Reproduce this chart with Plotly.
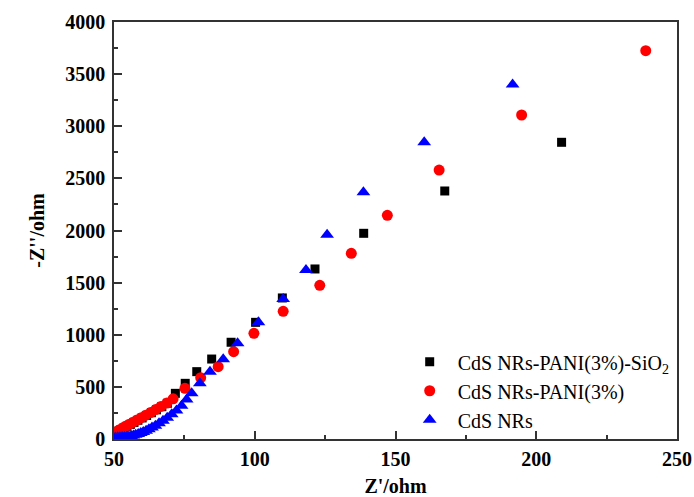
import plotly.graph_objects as go

# Nyquist data (Z' in ohm, -Z'' in ohm)
pani_sio2_zre = [50.8, 51.6, 52.5, 53.5, 54.6, 55.8, 57.1, 58.5, 60.0, 61.6, 63.3, 65.1, 67.0, 69.0,
                 71.8, 75.3, 79.4, 84.7, 91.6, 100.3, 109.8, 121.4, 138.7, 167.5, 209.0]
pani_sio2_zim = [60, 74, 89, 105, 122, 140, 159, 180, 202, 226, 252, 280, 310, 343,
                 438, 534, 646, 767, 928, 1119, 1353, 1631, 1973, 2379, 2846]

pani_zre = [50.5, 51.3, 52.2, 53.2, 54.3, 55.5, 56.8, 58.2, 59.7, 61.3, 63.0, 64.8, 66.7, 68.8, 71.0,
            75.2, 80.8, 87.0, 92.5, 99.7, 110.1, 123.1, 134.3, 147.1, 165.5, 194.8, 238.9]
pani_zim = [62, 76, 91, 107, 124, 142, 161, 182, 204, 228, 254, 282, 312, 345, 385,
            486, 588, 694, 838, 1014, 1225, 1474, 1781, 2146, 2580, 3108, 3725]

cds_zre = [50.5, 51.3, 52.1, 52.9, 53.7, 54.5, 55.3, 56.1, 56.9, 57.7, 58.6, 59.5, 60.4, 61.4,
           62.4, 63.5, 64.7, 66.0, 67.4, 68.9, 70.5, 72.2, 74.0, 75.8,
           77.6, 80.5, 84.1, 88.8, 93.9, 101.3, 110.1, 118.2, 125.7, 138.6, 160.2, 191.6]
cds_zim = [15, 16, 17, 18, 19, 21, 24, 28, 33, 40, 48, 57, 68, 80,
           94, 110, 128, 150, 175, 204, 237, 274, 320, 378,
           438, 534, 646, 764, 918, 1119, 1343, 1621, 1960, 2366, 2846, 3400]

x_ticks = [50, 100, 150, 200, 250]
y_ticks = [0, 500, 1000, 1500, 2000, 2500, 3000, 3500, 4000]

FONT = "Liberation Serif"
AXIS_COLOR = "#333333"

fig = go.Figure()
fig.add_trace(go.Scatter(
    x=pani_sio2_zre, y=pani_sio2_zim, mode="markers",
    name="CdS NRs-PANI(3%)-SiO<sub>2</sub>",
    marker=dict(symbol="square", size=9, color="#000000"),
))
fig.add_trace(go.Scatter(
    x=pani_zre, y=pani_zim, mode="markers",
    name="CdS NRs-PANI(3%)",
    marker=dict(symbol="circle", size=11, color="#ff0000"),
))
fig.add_trace(go.Scatter(
    x=cds_zre, y=cds_zim, mode="markers",
    name="CdS NRs",
    marker=dict(symbol="triangle-up", size=12, color="#0000ff"),
))

axis_common = dict(
    showline=True, linecolor=AXIS_COLOR, linewidth=1.5, mirror=True,
    ticks="inside", ticklen=8, tickwidth=1.5, tickcolor=AXIS_COLOR,
    showgrid=False, zeroline=False, automargin=False,
    tickfont=dict(family=FONT, size=20, color="#000000", weight="bold"),
)
title_font = dict(family=FONT, size=20, color="#000000", weight="bold")

fig.update_xaxes(
    range=[50, 250], tickvals=x_ticks, ticktext=[str(v) for v in x_ticks],
    minor=dict(ticks="inside", ticklen=4, tickwidth=1.5, tickcolor=AXIS_COLOR, dtick=25),
    ticklabelstandoff=1,
    title=dict(text="Z'/ohm", font=title_font),
    **axis_common,
)
fig.update_yaxes(
    range=[0, 4000], tickvals=y_ticks, ticktext=[str(v) for v in y_ticks],
    minor=dict(ticks="inside", ticklen=4, tickwidth=1.5, tickcolor=AXIS_COLOR, dtick=250),
    ticklabelstandoff=3,
    title=dict(text="-Z''/ohm", font=title_font),
    **axis_common,
)

fig.update_layout(
    width=694, height=497,
    margin=dict(l=114, r=17, t=22, b=58),
    plot_bgcolor="#ffffff", paper_bgcolor="#ffffff",
    legend=dict(
        x=0.511, y=0.232, xanchor="left", yanchor="top",
        bgcolor="rgba(0,0,0,0)", borderwidth=0,
        font=dict(family=FONT, size=20, color="#000000"),
        itemwidth=46, tracegroupgap=0,
    ),
)

fig.write_html("out.html")
